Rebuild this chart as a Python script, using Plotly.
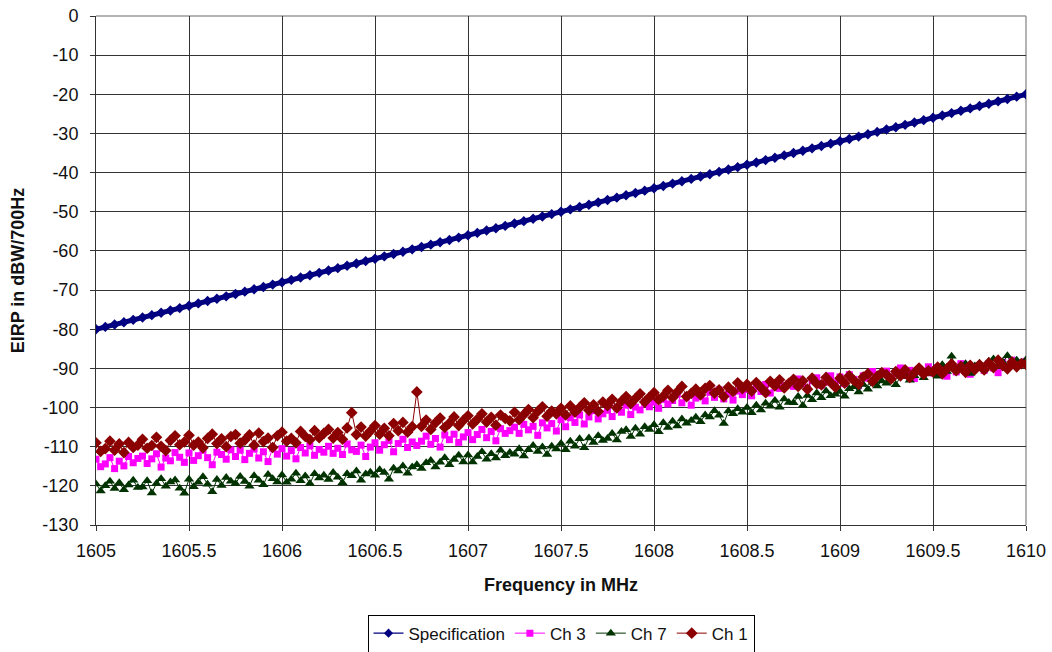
import plotly.graph_objects as go

# ---------------- data ----------------
FREQ_START = 1605.0      # MHz
FREQ_STEP = 0.025        # MHz between channel samples
SPEC_STEP = 0.05         # MHz between specification samples

SPEC = [
    -80.0, -79.4, -78.8, -78.2, -77.6, -77.0, -76.4, -75.8, -75.2, -74.6,
    -74.0, -73.4, -72.8, -72.2, -71.6, -71.0, -70.4, -69.8, -69.2, -68.6,
    -68.0, -67.4, -66.8, -66.2, -65.6, -65.0, -64.4, -63.8, -63.2, -62.6,
    -62.0, -61.4, -60.8, -60.2, -59.6, -59.0, -58.4, -57.8, -57.2, -56.6,
    -56.0, -55.4, -54.8, -54.2, -53.6, -53.0, -52.4, -51.8, -51.2, -50.6,
    -50.0, -49.4, -48.8, -48.2, -47.6, -47.0, -46.4, -45.8, -45.2, -44.6,
    -44.0, -43.4, -42.8, -42.2, -41.6, -41.0, -40.4, -39.8, -39.2, -38.6,
    -38.0, -37.4, -36.8, -36.2, -35.6, -35.0, -34.4, -33.8, -33.2, -32.6,
    -32.0, -31.4, -30.8, -30.2, -29.6, -29.0, -28.4, -27.8, -27.2, -26.6,
    -26.0, -25.4, -24.8, -24.2, -23.6, -23.0, -22.4, -21.8, -21.2, -20.6,
    -20.0,
]

CH3 = [
    -113.2, -115.1, -114.4, -112.8, -115.6, -113.7, -114.9, -112.5, -114.1, -113.0,
    -112.4, -114.3, -113.1, -111.8, -115.2, -112.9, -113.6, -111.5, -112.7, -114.0,
    -111.6, -113.5, -112.3, -110.9, -112.8, -114.6, -111.4, -112.0, -113.2, -110.8,
    -112.5, -110.9, -113.3, -111.7, -110.6, -112.9, -111.3, -113.8, -110.4, -111.9,
    -110.5, -112.4, -111.0, -113.1, -110.2, -111.6, -109.8, -112.2, -110.7, -111.4,
    -109.9, -111.7, -110.4, -112.0, -109.3, -110.8, -111.2, -109.6, -112.5, -110.1,
    -109.0, -110.9, -109.5, -108.4, -111.3, -109.2, -108.1, -110.2, -108.8, -109.7,
    -108.6, -107.3, -109.4, -107.9, -110.1, -107.0, -108.2, -106.8, -108.9, -107.5,
    -106.4, -108.2, -106.9, -105.6, -107.7, -106.1, -108.5, -105.4, -106.6, -105.9,
    -105.0, -106.6, -104.3, -105.7, -104.8, -107.1, -103.9, -105.2, -104.1, -106.0,
    -103.1, -104.9, -102.6, -103.8, -101.9, -104.2, -102.4, -100.8, -102.9, -101.6,
    -100.7, -102.3, -100.1, -101.2, -99.4, -101.8, -99.9, -100.6, -98.7, -99.8,
    -98.6, -100.2, -97.9, -99.1, -98.2, -96.6, -98.8, -97.3, -99.4, -97.6,
    -96.9, -98.3, -96.1, -97.4, -95.5, -97.8, -96.5, -98.1, -95.8, -96.7,
    -95.4, -97.0, -94.6, -95.9, -94.1, -96.3, -93.8, -95.1, -94.4, -93.9,
    -94.6, -92.7, -93.9, -95.2, -93.1, -92.4, -94.3, -93.5, -91.9, -93.7,
    -92.2, -93.9, -91.6, -92.8, -94.4, -91.9, -92.5, -90.8, -92.1, -91.4,
    -90.7, -92.3, -91.4, -89.9, -91.8, -90.5, -92.6, -90.2, -91.1, -89.6,
    -91.2, -89.8, -90.6, -92.0, -89.4, -90.9, -88.8, -90.3, -91.5, -89.7,
    -89.3, -90.5, -88.7, -89.9, -91.1, -88.4, -89.6, -87.9, -89.0, -88.5,
    -88.2,
]

CH7 = [
    -119.5, -121.3, -120.0, -118.8, -120.7, -119.2, -121.0, -119.8, -118.6, -120.4,
    -120.3, -118.7, -121.8, -119.4, -118.2, -120.1, -119.0, -118.5, -120.6, -121.9,
    -118.3, -120.2, -119.1, -117.7, -119.6, -121.5, -118.4, -119.9, -117.9, -118.8,
    -119.4, -117.6, -118.9, -120.1, -117.4, -118.6, -119.7, -117.1, -118.2, -119.0,
    -117.2, -119.1, -118.3, -116.8, -118.7, -117.5, -119.4, -116.9, -118.0, -117.3,
    -118.4, -116.6, -117.8, -119.2, -116.9, -117.4, -116.2, -118.6, -117.0, -116.5,
    -117.3, -115.9, -116.6, -118.3, -115.5, -116.2, -114.9, -116.8, -115.2, -114.6,
    -115.6, -114.1, -113.5, -115.2, -114.0, -112.8, -114.6, -113.3, -112.2, -113.9,
    -112.1, -113.9, -112.5, -111.3, -113.2, -111.8, -112.9, -110.9, -112.3, -111.5,
    -111.9, -110.5, -112.4, -110.8, -109.7, -111.2, -110.1, -112.0, -109.9, -110.6,
    -109.2, -110.8, -108.6, -109.9, -108.0, -110.3, -107.8, -108.9, -107.2, -108.4,
    -107.9, -106.6, -108.3, -106.1, -105.7, -107.4, -105.3, -106.8, -104.9, -105.6,
    -104.4, -106.2, -103.9, -105.1, -103.5, -104.7, -102.9, -104.0, -103.3, -102.5,
    -103.6, -101.9, -102.4, -100.8, -102.0, -104.1, -100.9, -101.6, -100.3, -101.2,
    -100.0, -101.3, -99.4, -100.6, -98.9, -99.7, -98.2, -99.9, -97.8, -98.7,
    -98.8, -97.2, -99.5, -96.9, -98.0, -96.3, -97.5, -95.8, -97.0, -96.6,
    -95.9, -97.1, -95.2, -94.7, -96.0, -94.1, -95.3, -93.6, -94.5, -93.2,
    -93.8, -92.6, -94.2, -92.1, -91.5, -93.0, -91.9, -90.6, -92.4, -91.3,
    -90.5, -92.0, -89.1, -90.8, -86.9, -90.2, -89.6, -88.8, -91.3, -89.4,
    -88.7, -90.1, -88.2, -87.6, -89.5, -88.4, -86.8, -89.0, -87.9, -88.5,
    -87.8,
]

CH1 = [
    -109.0, -111.2, -110.5, -108.6, -110.9, -109.3, -111.5, -108.9, -110.2, -109.6,
    -108.1, -110.4, -109.7, -107.6, -109.9, -111.0, -108.4, -107.2, -109.5, -108.8,
    -107.1, -109.6, -108.8, -110.3, -107.9, -106.8, -109.2, -108.0, -110.0, -107.4,
    -106.9, -109.1, -108.3, -107.0, -109.6, -106.5, -108.7, -107.8, -110.2, -107.2,
    -106.3, -108.6, -107.9, -109.0, -106.1, -107.4, -108.2, -105.9, -107.7, -106.6,
    -105.6, -107.8, -106.4, -108.1, -105.2, -101.3, -106.9, -105.0, -107.3, -106.0,
    -104.6, -106.8, -105.3, -107.2, -104.1, -105.9, -103.8, -106.3, -104.9, -96.0,
    -104.8, -103.2, -105.6, -103.9, -102.7, -105.1, -104.0, -102.4, -104.6, -103.3,
    -102.1, -104.2, -103.0, -101.6, -103.7, -102.5, -104.5, -101.9, -102.8, -103.4,
    -101.2, -103.1, -101.8, -100.5, -102.6, -101.0, -99.8, -102.2, -100.9, -101.6,
    -100.2, -101.9, -99.6, -101.2, -100.0, -98.8, -100.7, -99.3, -101.0, -98.6,
    -99.5, -97.9, -100.1, -98.4, -97.2, -99.0, -97.7, -96.5, -98.6, -97.4,
    -96.2, -98.0, -97.1, -95.6, -97.5, -96.0, -94.6, -97.2, -96.4, -95.3,
    -96.8, -95.1, -94.4, -96.3, -95.5, -97.2, -94.8, -95.9, -93.7, -95.2,
    -94.1, -95.8, -93.6, -94.9, -96.2, -93.3, -94.5, -92.9, -95.0, -93.8,
    -92.8, -94.6, -93.2, -95.3, -92.5, -93.9, -94.2, -92.3, -93.6, -94.8,
    -92.5, -93.8, -91.9, -93.1, -94.0, -92.2, -91.4, -93.3, -92.0, -91.1,
    -91.6, -92.7, -90.8, -91.9, -90.4, -92.3, -91.1, -89.9, -91.5, -90.6,
    -90.9, -89.7, -91.4, -90.1, -88.9, -90.6, -89.5, -91.0, -89.2, -90.3,
    -89.1, -90.4, -88.6, -89.8, -87.9, -89.3, -90.1, -88.4, -89.6, -88.8,
    -89.0,
]

SERIES_NAMES = ["Specification", "Ch 3", "Ch 7", "Ch 1"]
X_TICKS = [1605, 1605.5, 1606, 1606.5, 1607, 1607.5, 1608, 1608.5, 1609, 1609.5, 1610]
Y_TICKS = [0, -10, -20, -30, -40, -50, -60, -70, -80, -90, -100, -110, -120, -130]

# ---------------- sampling grids ----------------
freq = [FREQ_START + i * FREQ_STEP for i in range(len(CH1))]
spec_freq = [FREQ_START + i * SPEC_STEP for i in range(len(SPEC))]

FONT = "Liberation Sans, Arial, sans-serif"
C_SPEC = "#000080"
C_CH3 = "#FF00FF"
C_CH7 = "#003300"
C_CH1 = "#8B0000"
TXT = "#111111"

fig = go.Figure()

# specification (thick band of diamonds)
fig.add_trace(go.Scatter(
    x=spec_freq, y=SPEC, mode="lines+markers", showlegend=False,
    line=dict(color=C_SPEC, width=5),
    marker=dict(symbol="diamond", size=8, color=C_SPEC),
))
# legend entry for the specification
fig.add_trace(go.Scatter(
    x=[None], y=[None], mode="lines+markers", name=SERIES_NAMES[0],
    line=dict(color=C_SPEC, width=1.2),
    marker=dict(symbol="diamond", size=7, color=C_SPEC),
))
fig.add_trace(go.Scatter(
    x=freq, y=CH3, mode="lines+markers", name=SERIES_NAMES[1],
    line=dict(color=C_CH3, width=1),
    marker=dict(symbol="square", size=7, color=C_CH3),
))
fig.add_trace(go.Scatter(
    x=freq, y=CH7, mode="lines+markers", name=SERIES_NAMES[2],
    line=dict(color=C_CH7, width=1),
    marker=dict(symbol="triangle-up", size=9, color=C_CH7),
))
fig.add_trace(go.Scatter(
    x=freq, y=CH1, mode="lines+markers", name=SERIES_NAMES[3],
    line=dict(color=C_CH1, width=1),
    marker=dict(symbol="diamond", size=9, color=C_CH1),
))

GRID = "#333333"

fig.update_layout(
    width=1052, height=652,
    margin=dict(l=96, r=26, t=16, b=127, autoexpand=False),
    paper_bgcolor="white", plot_bgcolor="white",
    font=dict(family=FONT, size=18, color=TXT),
    legend=dict(
        orientation="h", x=0.5, xanchor="center", y=-0.176, yanchor="top",
        bordercolor="#000000", borderwidth=1, bgcolor="white",
        font=dict(family=FONT, size=17, color=TXT),
        tracegroupgap=0,
    ),
    xaxis=dict(
        range=[1605, 1610], tickvals=X_TICKS, ticktext=[f"{v:g}" for v in X_TICKS],
        showgrid=True, gridcolor=GRID, gridwidth=1,
        showline=True, linecolor=GRID, linewidth=1,
        ticks="outside", ticklen=5, tickcolor=GRID, ticklabelstandoff=4,
        zeroline=False,
        title=dict(text="<b>Frequency in MHz</b>", font=dict(family=FONT, size=18, color=TXT), standoff=18),
        tickfont=dict(family=FONT, size=18, color=TXT),
    ),
    yaxis=dict(
        range=[-130, 0], tickvals=Y_TICKS, ticktext=[str(v) for v in Y_TICKS],
        showgrid=True, gridcolor=GRID, gridwidth=1,
        showline=True, linecolor=GRID, linewidth=1,
        ticks="outside", ticklen=5, tickcolor=GRID, ticklabelstandoff=8,
        zeroline=False,
        title=dict(text="<b>EIRP in dBW/700Hz</b>", font=dict(family=FONT, size=18, color=TXT), standoff=13),
        tickfont=dict(family=FONT, size=18, color=TXT),
    ),
    shapes=[
        dict(type="line", xref="paper", yref="paper", x0=0, x1=1, y0=1, y1=1,
             line=dict(color="#9a9a9a", width=1.5), layer="between"),
        dict(type="line", xref="paper", yref="paper", x0=1, x1=1, y0=0, y1=1,
             line=dict(color="#9a9a9a", width=1.5), layer="between"),
    ],
)

fig.write_html(
    "out.html",
    config={"displayModeBar": False},
    post_script="document.body.style.margin='0';document.body.style.overflow='hidden';",
)
